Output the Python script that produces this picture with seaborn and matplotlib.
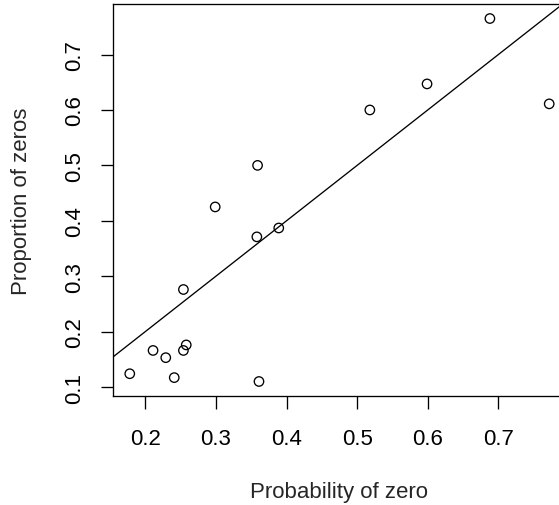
import matplotlib
matplotlib.use("Agg")
import matplotlib.pyplot as plt
import seaborn as sns
import numpy as np
import pandas as pd

# Data
prob_zero = [0.688, 0.599, 0.772, 0.518, 0.359, 0.299, 0.389, 0.358,
             0.254, 0.258, 0.254, 0.211, 0.229, 0.178, 0.241, 0.361]
prop_zeros = [0.765, 0.647, 0.611, 0.600, 0.500, 0.425, 0.387, 0.371,
              0.276, 0.176, 0.166, 0.166, 0.153, 0.124, 0.117, 0.110]
x_ticks = [0.2, 0.3, 0.4, 0.5, 0.6, 0.7]
y_ticks = [0.1, 0.2, 0.3, 0.4, 0.5, 0.6, 0.7]
ref_intercept = 0.0
ref_slope = 1.0

df = pd.DataFrame({"x": prob_zero, "y": prop_zeros})

sns.set_style("white")
plt.rcParams["font.family"] = ["Liberation Sans", "DejaVu Sans"]
FS = 16
plt.rcParams["font.size"] = FS

fig = plt.figure(figsize=(5.59, 5.06), dpi=100)
ax = fig.add_axes([0.2021, 0.2154, 0.8104, 0.7747])

sns.scatterplot(data=df, x="x", y="y", ax=ax, marker="o",
                facecolors="none", edgecolor="black", linewidth=0.95,
                s=46, zorder=3)
for c in ax.collections:
    c.set_facecolor("none")
    c.set_edgecolor("black")

ax.axline((0, ref_intercept), slope=ref_slope, color="black", lw=0.95)

# R-style 4% axis extension
def ext(v):
    lo, hi = min(v), max(v)
    d = (hi - lo) * 0.04
    return lo - d, hi + d

ax.set_xlim(*ext(prob_zero))
ax.set_ylim(*ext(prop_zeros))

ax.set_xticks(x_ticks)
ax.set_yticks(y_ticks)
ax.set_xticklabels([f"{t:.1f}" for t in x_ticks])
ax.set_yticklabels([f"{t:.1f}" for t in y_ticks], rotation=90, va="center")

ax.tick_params(axis="both", which="major", direction="out", length=9,
               width=0.95, color="black", labelsize=FS, labelcolor="black",
               bottom=True, left=True, top=False, right=False)
ax.tick_params(axis="x", pad=14)
ax.tick_params(axis="y", pad=11)

for s in ax.spines.values():
    s.set_visible(True)
    s.set_color("black")
    s.set_linewidth(0.95)

ax.set_xlabel("Probability of zero", fontsize=FS, labelpad=23)
ax.set_ylabel("Proportion of zeros", fontsize=FS, labelpad=23)
ax.grid(False)

fig.savefig("out.png", dpi=100)
